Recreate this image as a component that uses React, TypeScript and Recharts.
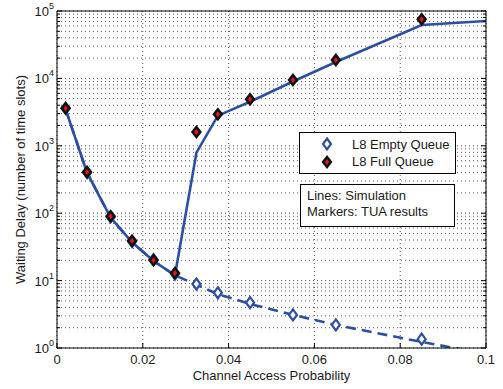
import React from 'react';
import { ComposedChart, Line, Scatter, XAxis, YAxis, CartesianGrid, Legend } from 'recharts';

// access probabilities where the TUA markers sit
const probs = [0.002, 0.007, 0.0125, 0.0175, 0.0225, 0.0275, 0.0325, 0.0375, 0.045, 0.055, 0.065, 0.085];
const emptyTua = [3600, 400, 88, 38, 20.5, 12.5, 8.9, 6.6, 4.7, 3.1, 2.2, 1.35];
const fullTua = [3600, 410, 90, 39, 20, 13, 1600, 2950, 4900, 9500, 18700, 75500];

// simulation curves
const simProbs = [0.002, 0.007, 0.0125, 0.0175, 0.0225, 0.0275, 0.0325, 0.0375, 0.045, 0.055, 0.065, 0.085, 0.1];
const emptySim = [3500, 400, 86, 37, 19.5, 12, 8.7, 6.3, 4.5, 3.1, 2.2, 1.23, 0.82];
const fullSim = [3500, 400, 86, 37, 19.5, 12, 790, 2800, 4500, 9000, 17500, 62000, 71000];

const xTicks = [0, 0.02, 0.04, 0.06, 0.08, 0.1];
const xTickLabels = ['0', '0.02', '0.04', '0.06', '0.08', '0.1'];
const decades = [0, 1, 2, 3, 4, 5];
const yTicks: number[] = [];
decades.forEach((d) => {
  if (d === 5) { yTicks.push(1e5); return; }
  for (let m = 1; m <= 9; m++) yTicks.push(m * Math.pow(10, d));
});

const toPoints = (xs: number[], ys: number[]) => xs.map((x, i) => ({ x, y: ys[i] }));
const emptyTuaData = toPoints(probs, emptyTua);
const fullTuaData = toPoints(probs, fullTua);
const emptySimData = toPoints(simProbs, emptySim);
const fullSimData = toPoints(simProbs, fullSim);

const BLUE = '#2c4fa3';
const FONT = '"Liberation Sans", Arial, Helvetica, sans-serif';
const TEXT = '#1a1a1a';

const isMajor = (v: number) => {
  const e = Math.log10(v);
  return Math.abs(e - Math.round(e)) < 1e-9;
};

function EmptyDiamond({ cx, cy }: { cx: number; cy: number }) {
  return (
    <path
      d={`M${cx},${cy - 5.5} L${cx + 4},${cy} L${cx},${cy + 5.5} L${cx - 4},${cy} Z`}
      fill="#fff"
      stroke={BLUE}
      strokeWidth={2.2}
    />
  );
}

function FullDiamond({ cx, cy }: { cx: number; cy: number }) {
  return (
    <g>
      <path
        d={`M${cx},${cy - 7} L${cx + 5.5},${cy} L${cx},${cy + 7} L${cx - 5.5},${cy} Z`}
        fill="#111"
      />
      <path
        d={`M${cx},${cy - 3} L${cx + 2.2},${cy} L${cx},${cy + 3} L${cx - 2.2},${cy} Z`}
        fill="#e8161b"
      />
    </g>
  );
}

function LeftTick(props: any) {
  const { x, y, payload } = props;
  const v = payload.value;
  const major = isMajor(v);
  return (
    <g>
      <line x1={x} y1={y} x2={x + (major ? 5 : 3)} y2={y} stroke="#000" />
      {major && (
        <text x={x - 3} y={y + 5} textAnchor="end" fontSize={13} fontFamily={FONT} fill={TEXT}>
          10
          <tspan dy={-7} fontSize={9}>{Math.round(Math.log10(v))}</tspan>
        </text>
      )}
    </g>
  );
}

function RightTick(props: any) {
  const { x, y, payload } = props;
  const major = isMajor(payload.value);
  return <line x1={x} y1={y} x2={x - (major ? 5 : 3)} y2={y} stroke="#000" />;
}

function BottomTick(props: any) {
  const { x, y, index } = props;
  return (
    <g>
      <line x1={x} y1={y} x2={x} y2={y - 5} stroke="#000" />
      <text x={x} y={y + 16} textAnchor="middle" fontSize={13} fontFamily={FONT} fill={TEXT}>
        {xTickLabels[index]}
      </text>
    </g>
  );
}

function TopTick(props: any) {
  const { x, y } = props;
  return <line x1={x} y1={y} x2={x} y2={y + 5} stroke="#000" />;
}

function LegendBoxes() {
  return (
    <svg width={158} height={96} style={{ display: 'block' }}>
      <rect x={0.5} y={0.5} width={156} height={41} fill="#fff" stroke="#000" />
      <EmptyDiamond cx={28} cy={12} />
      <text x={53} y={16.5} fontSize={13} fontFamily={FONT} fill={TEXT}>L8 Empty Queue</text>
      <FullDiamond cx={28} cy={30} />
      <text x={53} y={34} fontSize={13} fontFamily={FONT} fill={TEXT}>L8 Full Queue</text>
      <rect x={1.5} y={52.5} width={154} height={42} fill="#fff" stroke="#000" />
      <text x={8} y={68} fontSize={13} fontFamily={FONT} fill={TEXT}>Lines: Simulation</text>
      <text x={8} y={84} fontSize={13} fontFamily={FONT} fill={TEXT}>Markers: TUA results</text>
    </svg>
  );
}

export default function App() {
  return (
    <div style={{ position: 'absolute', left: 0, top: 0, width: 503, height: 389, background: '#fff' }}>
      <ComposedChart width={503} height={389} margin={{ top: 0, right: 0, bottom: 0, left: 0 }}>
        <CartesianGrid stroke="#555" strokeDasharray="1 3" />
        <XAxis
          dataKey="x"
          type="number"
          domain={[0, 0.1]}
          ticks={xTicks}
          interval={0}
          allowDataOverflow
          height={41}
          tickSize={0}
          tickMargin={0}
          tick={<BottomTick />}
          axisLine={{ stroke: '#000' }}
          label={{
            content: (p: any) => {
              const vb = p.viewBox;
              return (
                <text x={vb.x + vb.width / 2} y={vb.y + 32} textAnchor="middle" fontSize={13} fontFamily={FONT} fill={TEXT}>
                  Channel Access Probability
                </text>
              );
            },
          }}
        />
        <XAxis
          xAxisId="top"
          orientation="top"
          type="number"
          domain={[0, 0.1]}
          ticks={xTicks}
          interval={0}
          allowDataOverflow
          height={11}
          tickSize={0}
          tickMargin={0}
          tick={<TopTick />}
          axisLine={{ stroke: '#000' }}
        />
        <YAxis
          dataKey="y"
          scale="log"
          type="number"
          domain={[1, 100000]}
          ticks={yTicks}
          interval={0}
          allowDataOverflow
          width={57}
          tickSize={0}
          tickMargin={0}
          tick={<LeftTick />}
          axisLine={{ stroke: '#000' }}
          label={{
            content: (p: any) => {
              const vb = p.viewBox;
              const cy = vb.y + vb.height / 2;
              return (
                <text
                  x={25}
                  y={cy}
                  transform={`rotate(-90 25 ${cy})`}
                  textAnchor="middle"
                  fontSize={13}
                  fontFamily={FONT}
                  fill={TEXT}
                >
                  Waiting Delay (number of time slots)
                </text>
              );
            },
          }}
        />
        <YAxis
          yAxisId="right"
          orientation="right"
          scale="log"
          type="number"
          domain={[1, 100000]}
          ticks={yTicks}
          interval={0}
          allowDataOverflow
          width={17}
          tickSize={0}
          tickMargin={0}
          tick={<RightTick />}
          axisLine={{ stroke: '#000' }}
        />
        <Scatter
          data={emptyTuaData}
          dataKey="y"
          isAnimationActive={false}
          shape={(p: any) => <EmptyDiamond cx={p.cx} cy={p.cy} />}
        />
        <Scatter
          data={fullTuaData}
          dataKey="y"
          isAnimationActive={false}
          shape={(p: any) => <FullDiamond cx={p.cx} cy={p.cy} />}
        />
        <Line
          data={emptySimData}
          dataKey="y"
          stroke={BLUE}
          strokeWidth={2.6}
          strokeDasharray="10 6"
          dot={false}
          activeDot={false}
          isAnimationActive={false}
        />
        <Line
          data={fullSimData}
          dataKey="y"
          stroke={BLUE}
          strokeWidth={2.6}
          dot={false}
          activeDot={false}
          isAnimationActive={false}
        />
        <Legend
          layout="horizontal"
          verticalAlign="middle"
          align="center"
          wrapperStyle={{ left: 299, top: 132, width: 158 }}
          content={() => <LegendBoxes />}
        />
      </ComposedChart>
    </div>
  );
}
